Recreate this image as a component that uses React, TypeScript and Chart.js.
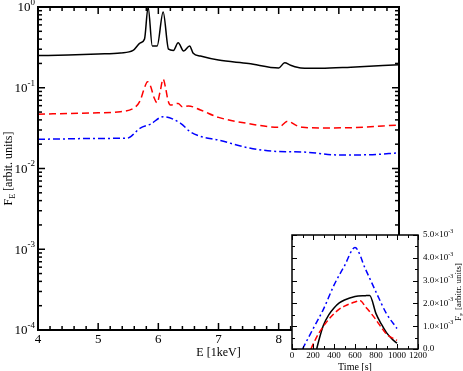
import React, { useEffect, useRef } from 'react';
import { Chart, registerables } from 'chart.js';

Chart.register(...registerables);

// ---------- Main panel data: flux vs energy ----------
const blackE = [4.0, 4.5, 5.0, 5.37, 5.58, 5.7, 5.77, 5.83, 5.9, 5.98, 6.08, 6.17, 6.25, 6.33, 6.42, 6.52, 6.58, 6.7, 7.0, 7.5, 8.0, 8.1, 8.2, 8.37, 8.7, 9.2, 10.0];
const blackF = [0.25, 0.255, 0.262, 0.27, 0.29, 0.36, 0.40, 1.0, 0.33, 0.33, 0.87, 0.30, 0.29, 0.36, 0.285, 0.33, 0.267, 0.247, 0.22, 0.20, 0.176, 0.204, 0.19, 0.176, 0.174, 0.18, 0.193];

const redE = [4.0, 4.5, 5.0, 5.37, 5.62, 5.7, 5.76, 5.82, 5.87, 5.93, 5.98, 6.03, 6.08, 6.12, 6.16, 6.2, 6.33, 6.4, 6.5, 6.7, 7.0, 7.5, 8.0, 8.15, 8.3, 8.4, 8.7, 9.2, 10.0];
const redF = [0.047, 0.048, 0.049, 0.0506, 0.058, 0.07, 0.095, 0.119, 0.105, 0.075, 0.065, 0.09, 0.128, 0.1, 0.07, 0.061, 0.064, 0.058, 0.0595, 0.0531, 0.043, 0.036, 0.0324, 0.0384, 0.034, 0.0324, 0.0318, 0.032, 0.0346];

const blueE = [4.0, 4.5, 5.0, 5.48, 5.7, 5.87, 6.08, 6.37, 6.53, 6.7, 7.0, 7.5, 8.0, 8.4, 9.0, 9.5, 10.0];
const blueF = [0.023, 0.0233, 0.0236, 0.0237, 0.0317, 0.0355, 0.0438, 0.0363, 0.0285, 0.025, 0.0225, 0.018, 0.0162, 0.016, 0.0147, 0.0148, 0.0156];

const energyTicks = [4, 5, 6, 7, 8, 9, 10];
const energyTickLabels = ['4', '5', '6', '7', '8', '9', '10'];
const fluxDecades = [-4, -3, -2, -1, 0];

// ---------- Inset data: flux (units of 1e-3) vs time ----------
const blackT = [235, 260, 300, 350, 400, 450, 500, 600, 700, 740, 800, 850, 900, 950, 1000];
const blackR = [0, 0.45, 1.05, 1.5, 1.8, 2.02, 2.15, 2.3, 2.34, 2.35, 1.55, 1.1, 0.72, 0.45, 0.25];

const redT = [180, 200, 250, 300, 350, 400, 450, 500, 550, 600, 650, 700, 750, 800, 850, 900, 950, 1000];
const redR = [0, 0.2, 0.65, 1.0, 1.3, 1.55, 1.75, 1.88, 1.98, 2.06, 2.12, 1.85, 1.58, 1.28, 0.95, 0.65, 0.5, 0.38];

const blueT = [100, 200, 300, 400, 500, 600, 700, 800, 900, 1000];
const blueR = [0, 0.88, 1.75, 2.8, 3.65, 4.45, 3.5, 2.5, 1.55, 0.9];

const timeTicks = [0, 200, 400, 600, 800, 1000, 1200];
const insetYTicks = [0, 1, 2, 3, 4, 5];

const SERIF = "'Liberation Serif', 'Times New Roman', Times, serif";

function drawSup(ctx: CanvasRenderingContext2D, base: string, exp: string, x: number, y: number, size: number, align: 'left' | 'right' | 'center') {
  ctx.font = `${size}px ${SERIF}`;
  const bw = ctx.measureText(base).width;
  const es = Math.round(size * 0.68);
  ctx.font = `${es}px ${SERIF}`;
  const ew = exp ? ctx.measureText(exp).width : 0;
  const total = bw + ew;
  const x0 = align === 'left' ? x : align === 'right' ? x - total : x - total / 2;
  ctx.textAlign = 'left';
  ctx.textBaseline = 'middle';
  ctx.font = `${size}px ${SERIF}`;
  ctx.fillText(base, x0, y);
  if (exp) {
    ctx.font = `${es}px ${SERIF}`;
    ctx.fillText(exp, x0 + bw, y - size * 0.42);
  }
}

function seg(ctx: CanvasRenderingContext2D, x1: number, y1: number, x2: number, y2: number) {
  ctx.beginPath();
  ctx.moveTo(x1, y1);
  ctx.lineTo(x2, y2);
  ctx.stroke();
}

const mainFrame = {
  id: 'mainFrame',
  afterDatasetsDraw(chart: any) {
    const { ctx, chartArea: a, scales } = chart;
    const xs = scales.x;
    const ys = scales.y;
    ctx.save();
    ctx.strokeStyle = '#000';
    ctx.fillStyle = '#000';
    ctx.lineWidth = 2;
    ctx.strokeRect(a.left, a.top, a.right - a.left, a.bottom - a.top);
    ctx.lineWidth = 1.5;
    for (let i = 0; i <= 30; i++) {
      const v = 4 + i * 0.2;
      const px = xs.getPixelForValue(v);
      const len = i % 5 === 0 ? 7 : 4;
      seg(ctx, px, a.bottom, px, a.bottom - len);
      seg(ctx, px, a.top, px, a.top + len);
    }
    for (const d of fluxDecades) {
      for (let m = 1; m <= 9; m++) {
        if (d === 0 && m > 1) break;
        const py = ys.getPixelForValue(m * Math.pow(10, d));
        const len = m === 1 ? 7 : 4;
        seg(ctx, a.left, py, a.left + len, py);
        seg(ctx, a.right, py, a.right - len, py);
      }
    }
    ctx.textAlign = 'center';
    ctx.textBaseline = 'middle';
    ctx.font = `13px ${SERIF}`;
    energyTicks.forEach((v, i) => {
      ctx.fillText(energyTickLabels[i], xs.getPixelForValue(v), a.bottom + 10);
    });
    for (const d of fluxDecades) {
      drawSup(ctx, '10', String(d), a.left - 3, ys.getPixelForValue(Math.pow(10, d)) + 1, 13, 'right');
    }
    ctx.font = `12px ${SERIF}`;
    ctx.textAlign = 'center';
    ctx.fillText('E [1keV]', (a.left + a.right) / 2, a.bottom + 23);
    ctx.save();
    ctx.translate(9, (a.top + a.bottom) / 2);
    ctx.rotate(-Math.PI / 2);
    ctx.font = `12px ${SERIF}`;
    const wF = ctx.measureText('F').width;
    ctx.font = `8px ${SERIF}`;
    const wE = ctx.measureText('E').width;
    ctx.font = `12px ${SERIF}`;
    const rest = ' [arbit. units]';
    const wR = ctx.measureText(rest).width;
    const tot = wF + wE + wR;
    let cx = -tot / 2;
    ctx.textAlign = 'left';
    ctx.fillText('F', cx, 0);
    cx += wF;
    ctx.font = `8px ${SERIF}`;
    ctx.fillText('E', cx, 4);
    cx += wE;
    ctx.font = `12px ${SERIF}`;
    ctx.fillText(rest, cx, 0);
    ctx.restore();
    ctx.restore();
  },
};

const insetFrame = {
  id: 'insetFrame',
  beforeDraw(chart: any) {
    const { ctx, chartArea: a } = chart;
    ctx.save();
    ctx.fillStyle = '#fff';
    ctx.fillRect(a.left, a.top, chart.width - a.left, chart.height - a.top);
    ctx.restore();
  },
  afterDatasetsDraw(chart: any) {
    const { ctx, chartArea: a, scales } = chart;
    const xs = scales.x;
    const ys = scales.y;
    ctx.save();
    ctx.strokeStyle = '#000';
    ctx.fillStyle = '#000';
    ctx.lineWidth = 1.5;
    ctx.strokeRect(a.left, a.top, a.right - a.left, a.bottom - a.top);
    ctx.lineWidth = 1;
    for (let i = 0; i <= 12; i++) {
      const px = Math.round(xs.getPixelForValue(i * 100)) + 0.5;
      const len = i % 2 === 0 ? 5 : 3;
      seg(ctx, px, a.bottom, px, a.bottom - len);
      seg(ctx, px, a.top, px, a.top + len);
    }
    for (let i = 0; i <= 10; i++) {
      const py = Math.round(ys.getPixelForValue(i * 0.5)) + 0.5;
      const len = i % 2 === 0 ? 5 : 3;
      seg(ctx, a.left, py, a.left + len, py);
      seg(ctx, a.right, py, a.right - len, py);
    }
    ctx.textAlign = 'center';
    ctx.textBaseline = 'middle';
    ctx.font = `9px ${SERIF}`;
    timeTicks.forEach((t) => {
      ctx.fillText(String(t), xs.getPixelForValue(t), a.bottom + 7);
    });
    insetYTicks.forEach((v) => {
      const py = ys.getPixelForValue(v);
      if (v === 0) {
        drawSup(ctx, '0.0', '', a.right + 5, py, 9, 'left');
      } else {
        drawSup(ctx, `${v}.0×10`, '-3', a.right + 5, py, 9, 'left');
      }
    });
    ctx.font = `10px ${SERIF}`;
    ctx.textAlign = 'center';
    ctx.fillText('Time [s]', (a.left + a.right) / 2, a.bottom + 18);
    ctx.save();
    ctx.translate(459, (a.top + a.bottom) / 2);
    ctx.rotate(-Math.PI / 2);
    ctx.font = `9px ${SERIF}`;
    const wF = ctx.measureText('F').width;
    ctx.font = `6px ${SERIF}`;
    const wE = ctx.measureText('E').width;
    ctx.font = `9px ${SERIF}`;
    const rest = ' [arbitr. units]';
    const wR = ctx.measureText(rest).width;
    let cx = -(wF + wE + wR) / 2;
    ctx.textAlign = 'left';
    ctx.fillText('F', cx, 0);
    cx += wF;
    ctx.font = `6px ${SERIF}`;
    ctx.fillText('E', cx, 3);
    cx += wE;
    ctx.font = `9px ${SERIF}`;
    ctx.fillText(rest, cx, 0);
    ctx.restore();
    ctx.restore();
  },
};

function pts(xs: number[], ys: number[]) {
  return xs.map((x, i) => ({ x, y: ys[i] }));
}

export default function App() {
  const mainRef = useRef<HTMLCanvasElement>(null);
  const insetRef = useRef<HTMLCanvasElement>(null);

  useEffect(() => {
    document.body.style.margin = '0';
    const common = {
      responsive: false,
      animation: false as const,
      events: [] as any[],
      plugins: { legend: { display: false }, tooltip: { enabled: false } },
      elements: { point: { radius: 0 }, line: { cubicInterpolationMode: 'monotone' } },
    };
    const main = new Chart(mainRef.current!, {
      type: 'line',
      data: {
        datasets: [
          { data: pts(blueE, blueF), borderColor: '#0000ff', borderWidth: 1.5, borderDash: [7, 3, 2, 3], fill: false },
          { data: pts(redE, redF), borderColor: '#ff0000', borderWidth: 1.5, borderDash: [7, 4], fill: false },
          { data: pts(blackE, blackF), borderColor: '#000000', borderWidth: 1.5, fill: false },
        ],
      },
      options: {
        ...common,
        layout: { padding: { left: 38, right: 64, top: 7, bottom: 41 } },
        scales: {
          x: { type: 'linear', min: 4, max: 10, display: false },
          y: { type: 'logarithmic', min: 1e-4, max: 1, display: false },
        },
      },
      plugins: [mainFrame],
    } as any);
    const inset = new Chart(insetRef.current!, {
      type: 'line',
      data: {
        datasets: [
          { data: pts(blueT, blueR), borderColor: '#0000ff', borderWidth: 1.5, borderDash: [6, 3, 2, 3], fill: false },
          { data: pts(redT, redR), borderColor: '#ff0000', borderWidth: 1.5, borderDash: [6, 3], fill: false },
          { data: pts(blackT, blackR), borderColor: '#000000', borderWidth: 1.5, fill: false },
        ],
      },
      options: {
        ...common,
        layout: { padding: { left: 292, right: 45, top: 235, bottom: 22 } },
        scales: {
          x: { type: 'linear', min: 0, max: 1200, display: false },
          y: { type: 'linear', min: 0, max: 5, display: false },
        },
      },
      plugins: [insetFrame],
    } as any);
    return () => {
      main.destroy();
      inset.destroy();
    };
  }, []);

  return (
    <div style={{ position: 'relative', width: 463, height: 371 }}>
      <canvas ref={mainRef} width={463} height={371} style={{ position: 'absolute', left: 0, top: 0 }} />
      <canvas ref={insetRef} width={463} height={371} style={{ position: 'absolute', left: 0, top: 0 }} />
    </div>
  );
}
